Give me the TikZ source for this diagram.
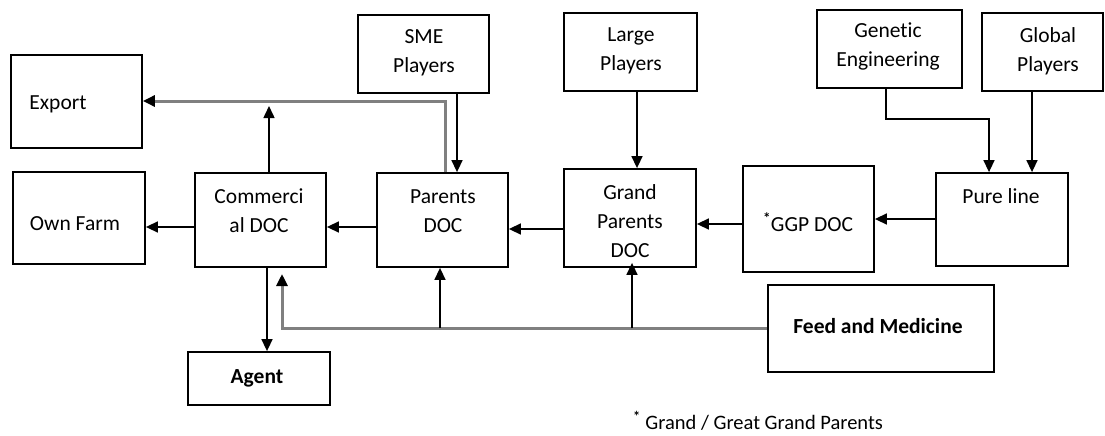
\documentclass[tikz,border=0pt]{standalone}
\usepackage{fontspec}
\setmainfont{Carlito}[Ligatures={NoCommon}]
\usetikzlibrary{arrows.meta}
\begin{document}
\begin{tikzpicture}[x=1pt,y=-1pt,
  box/.style={draw=black,line width=1.8pt,minimum width=#1,inner sep=0pt},
  lbl/.style={font=\fontsize{21.5}{29}\selectfont,align=center,inner sep=0pt},
  blbl/.style={font=\fontsize{21.5}{29}\selectfont\bfseries,align=center,inner sep=0pt},
  arr/.style={line width=1.5pt,-{Triangle[length=12pt,width=11pt]}},
  garr/.style={line width=3pt,draw=black!50,-{Triangle[length=12pt,width=11pt,color=black]}},
  gline/.style={line width=3pt,draw=black!50}]
\useasboundingbox (0,0) rectangle (1105,436);
% boxes
\node[box=131pt,minimum height=93pt] (exp) at (76.5,101.5) {};
\node[box=132pt,minimum height=92pt] (own) at (79,218) {};
\node[box=131pt,minimum height=94pt] (com) at (260.5,220) {};
\node[box=131pt,minimum height=94pt] (par) at (442.5,220) {};
\node[box=131pt,minimum height=78pt] (sme) at (423.5,54) {};
\node[box=133pt,minimum height=78pt] (lrg) at (630.5,52) {};
\node[box=132pt,minimum height=98pt] (grd) at (630,218) {};
\node[box=131pt,minimum height=106pt] (ggp) at (808.5,219) {};
\node[box=145pt,minimum height=78pt] (gen) at (889.5,49) {};
\node[box=121pt,minimum height=78pt] (glb) at (1042.5,52) {};
\node[box=132pt,minimum height=93pt] (pur) at (1002,219.5) {};
\node[box=226pt,minimum height=87pt] (fed) at (881,328.5) {};
\node[box=142pt,minimum height=53pt] (agt) at (259,378.5) {};
% texts
\node[lbl] (texp) at (58,104) {Export};
\node[lbl] (town) at (75,224) {Own Farm};
\node[lbl] (tcom) at (259,211) {Commerci\\al DOC};
\node[lbl] (tpar) at (443,211) {Parents\\DOC};
\node[lbl] (tsme) at (424,53) {SME\\Players};
\node[lbl] (tlrg) at (631,51) {Large\\Players};
\node[lbl] (tgrd) at (630,221) {Grand\\Parents\\DOC};
\node[lbl] (tggp) at (808,222) {\textsuperscript{\textbf{*}}GGP DOC};
\node[lbl] (tgen) at (888,46) {Genetic\\Engineering};
\node[lbl] (tglb) at (1048,51) {Global\\Players};
\node[lbl] (tpur) at (1001,196) {Pure line};
\node[blbl] (tfed) at (878,326) {Feed and Medicine};
\node[blbl] (tagt) at (257,378) {Agent};
\node[lbl,font=\fontsize{20.5}{24}\selectfont] (tnote) at (758,421) {\textsuperscript{\textbf{*}} Grand / Great Grand Parents};
% coordinates
\coordinate (comtip) at (269,106);
\coordinate (gcorner) at (445,101);
\coordinate (gencorner) at (886,119);
\coordinate (fcorner) at (282,328);
\coordinate (ftip) at (282,274);
% connectors
\draw[garr] (par.north -| gcorner) -- (gcorner) -- (exp.east |- gcorner);
\draw[arr] (com.north -| comtip) -- (comtip);
\draw[arr] (sme.south -| 457,0) -- (par.north -| 457,0);
\draw[arr] (lrg.south -| 637,0) -- (grd.north -| 637,0);
\draw[arr] (gen.south -| gencorner) -- (gencorner) -| (pur.north -| 989,0);
\draw[arr] (glb.south -| 1032,0) -- (pur.north -| 1032,0);
\draw[arr] (pur.west |- 0,219) -- (ggp.east |- 0,219);
\draw[arr] (ggp.west |- 0,224) -- (grd.east |- 0,224);
\draw[arr] (grd.west |- 0,229) -- (par.east |- 0,229);
\draw[arr] (par.west |- 0,227) -- (com.east |- 0,227);
\draw[arr] (com.west |- 0,227) -- (own.east |- 0,227);
\draw[arr] (com.south -| 267,0) -- (agt.north -| 267,0);
\draw[garr] (fed.west |- fcorner) -- (fcorner) -- (ftip);
\draw[arr] (440,328) -- (par.south -| 440,0);
\draw[arr] (632,328) -- ([yshift=5pt]grd.south -| 632,0);
\end{tikzpicture}
\end{document}
